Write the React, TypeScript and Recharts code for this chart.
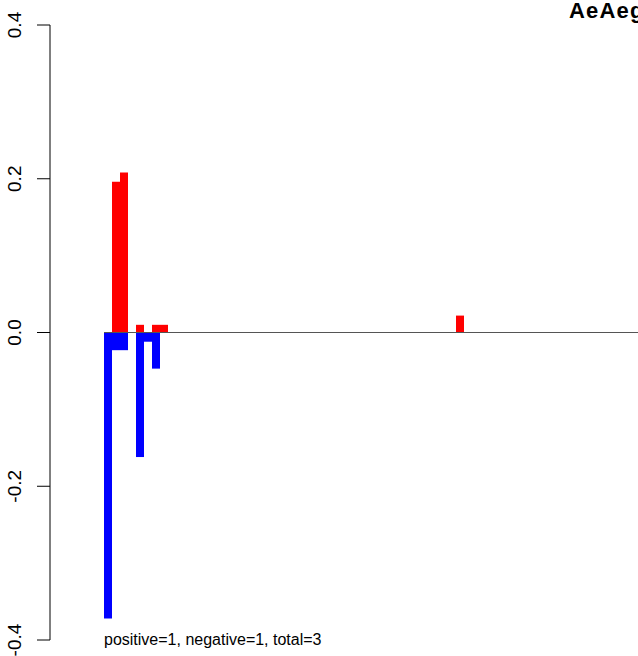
import * as React from 'react';
import { BarChart, Bar, XAxis, YAxis, ReferenceLine } from 'recharts';

// slot positions along the x axis (no labels shown)
const slots = Array.from({ length: 70 }, (_, i) => String(i + 1));

const positive = [
	0, 0.196, 0.208, 0, 0.01, 0, 0.01, 0.01, 0, 0,
	0, 0, 0, 0, 0, 0, 0, 0, 0, 0,
	0, 0, 0, 0, 0, 0, 0, 0, 0, 0,
	0, 0, 0, 0, 0, 0, 0, 0, 0, 0,
	0, 0, 0, 0, 0.022, 0, 0, 0, 0, 0,
	0, 0, 0, 0, 0, 0, 0, 0, 0, 0,
	0, 0, 0, 0, 0, 0, 0, 0, 0, 0
];

const negative = [
	-0.372, -0.023, -0.023, 0, -0.162, -0.012, -0.047, 0, 0, 0,
	0, 0, 0, 0, 0, 0, 0, 0, 0, 0,
	0, 0, 0, 0, 0, 0, 0, 0, 0, 0,
	0, 0, 0, 0, 0, 0, 0, 0, 0, 0,
	0, 0, 0, 0, 0, 0, 0, 0, 0, 0,
	0, 0, 0, 0, 0, 0, 0, 0, 0, 0,
	0, 0, 0, 0, 0, 0, 0, 0, 0, 0
];

const yTicks = [-0.4, -0.2, 0, 0.2, 0.4];

const title = 'AeAegypti';
const note = 'positive=1, negative=1, total=3';

const FONT = '"Liberation Sans", Arial, Helvetica, sans-serif';

const data = slots.map((s, i) => ({
	slot: s,
	pos: positive[i],
	neg: negative[i]
}));

const renderYTick = (props: any) => {
	const { y, payload } = props;
	return (
		<text
			x={21}
			y={y}
			transform={`rotate(-90, 21, ${y})`}
			textAnchor="middle"
			fontSize={19}
			fontFamily={FONT}
			fill="#000"
		>
			{payload.value.toFixed(1)}
		</text>
	);
};

export default function App() {
	return (
		<div
			style={{
				position: 'absolute',
				left: 0,
				top: 0,
				width: 638,
				height: 656,
				overflow: 'hidden',
				background: '#fff'
			}}
		>
			<BarChart
				width={664}
				height={656}
				data={data}
				margin={{ top: 25, right: 0, bottom: 16, left: 0 }}
				barCategoryGap={0}
				barGap={0}
				stackOffset="sign"
			>
				<XAxis dataKey="slot" hide padding={{ left: 54, right: 0 }} />
				<YAxis
					type="number"
					domain={[-0.4, 0.4]}
					ticks={yTicks}
					width={50}
					tickSize={13}
					axisLine={{ stroke: '#000' }}
					tickLine={{ stroke: '#000' }}
					tick={renderYTick}
				/>
				<ReferenceLine
					segment={[
						{ x: slots[0], y: 0 },
						{ x: slots[slots.length - 1], y: 0 }
					]}
					position="start"
					stroke="#555"
					strokeWidth={1}
				/>
				<Bar dataKey="pos" stackId="s" fill="#ff0000" isAnimationActive={false} />
				<Bar dataKey="neg" stackId="s" fill="#0000ff" isAnimationActive={false} />
			</BarChart>
			<svg
				width={638}
				height={656}
				style={{ position: 'absolute', left: 0, top: 0, pointerEvents: 'none' }}
			>
				<text
					x={569}
					y={18}
					fontSize={22}
					fontWeight="bold"
					fontFamily={FONT}
					letterSpacing={1.2}
					fill="#000"
				>
					{title}
				</text>
				<text x={104} y={645} fontSize={16} fontFamily={FONT} fill="#000">
					{note}
				</text>
			</svg>
		</div>
	);
}
